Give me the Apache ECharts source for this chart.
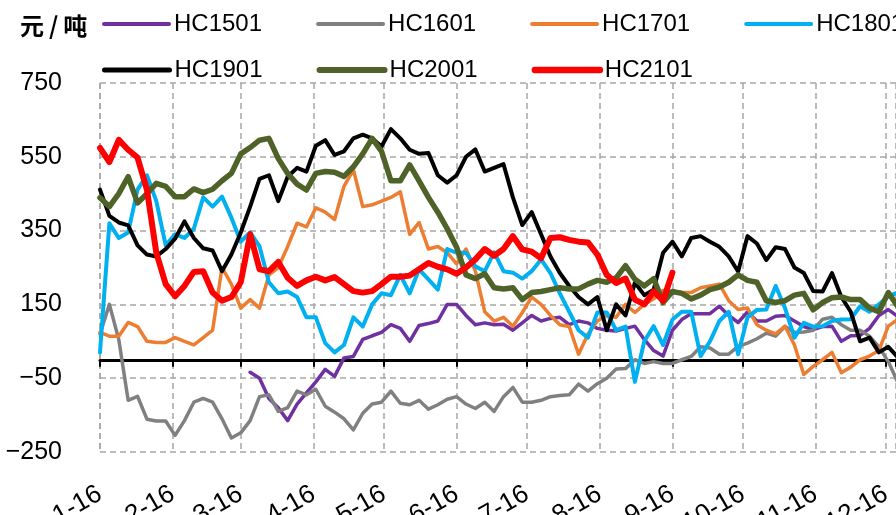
<!DOCTYPE html>
<html>
<head>
<meta charset="utf-8">
<script src="https://cdn.jsdelivr.net/npm/echarts@6/dist/echarts.min.js"></script>
<style>
    html, body { margin: 0; padding: 0; background: #fff; }
    #chart { width: 896px; height: 515px; }
</style>
</head>
<body>
<div id="chart"></div>
<script>
var FONT = "'Liberation Sans', Arial, sans-serif";
var DAY = 24 * 3600 * 1000;

// one sample every 4 days starting 2016-01-01
var stepDays = 4;
var sampleCount = 86;
var dates = [];
for (var i = 0; i < sampleCount; i++) {
    dates.push(new Date(2016, 0, 1 + i * stepDays).getTime());
}

var monthLabels = ['1-16', '2-16', '3-16', '4-16', '5-16', '6-16', '7-16', '8-16', '9-16', '10-16', '11-16', '12-16'];
var seriesNames = ['HC1501', 'HC1601', 'HC1701', 'HC1801', 'HC1901', 'HC2001', 'HC2101'];
var seriesColors = ['#7030A0', '#808080', '#ED7D31', '#00B0F0', '#000000', '#4F6228', '#FF0000'];
var seriesWidths = [3.5, 3.5, 3.5, 4, 4, 5.5, 6];
var legendWidths = [4, 4, 4, 4, 5, 6, 6.5];

var hc1501 = [null, null, null, null, null, null, null, null, null, null, null, null, null, null, null, null,
    -34, -50, -105, -130, -165, -120, -90, -60, -26, -45,
    5, 9, 55, 65, 74, 95, 85, 50, 93, 98,
    105, 150, 150, 120, 95, 100, 95, 96, 80, 100,
    120, 105, 112, 115, 95, 105, 100, 85, 80, 78,
    85, 91, 55, 25, 10, 80, 109, 125, 125, 125,
    145, 120, 101, 130, 105, 105, 118, 120, 105, 90,
    82, 90, 91, 50, 65, 66, 85, 120, 136, 118];
var hc1601 = [70, 150, 55, -110, -99, -161, -166, -166, -205, -165,
    -115, -105, -115, -160, -212, -198, -165, -100, -95, -140,
    -130, -85, -95, -80, -126, -142, -160, -190, -145, -120,
    -115, -85, -118, -122, -110, -134, -122, -107, -100, -120,
    -132, -115, -140, -100, -75, -115, -115, -110, -100, -97,
    -95, -66, -85, -65, -50, -25, -24, 0, -10, -5,
    -10, -10, 0, 9, 35, 32, 15, 15, 36, 45,
    57, 72, 64, 90, 74, 75, 80, 110, 115, 95,
    80, 80, 64, 35, -5, -61];
var hc1701 = [74, 64, 64, 101, 90, 50, 47, 47, 60, 50,
    40, 60, 80, 250, 205, 140, 163, 140, 230, 250,
    307, 370, 360, 412, 400, 380, 470, 515, 415, 420,
    430, 440, 455, 340, 372, 300, 307, 290, 260, 300,
    240, 130, 105, 115, 91, 128, 170, 150, 120, 95,
    90, 15, 70, 105, 120, 115, 150, 128, 150, 165,
    188, 185, 183, 182, 195, 200, 205, 160, 136, 140,
    95, 80, 70, 91, 40, -40, -18, 0, 20, -35,
    -20, 0, 10, 25, 91, 109];
var hc1801 = [20, 370, 330, 345, 461, 500, 430, 310, 340, 330,
    355, 440, 415, 442, 385, 320, 345, 307, 210, 180,
    185, 170, 115, 115, 45, 20, 40, 115, 90, 150,
    180, 175, 230, 180, 245, 218, 190, 300, 290, 290,
    253, 240, 291, 240, 236, 220, 240, 272, 235, 180,
    130, 80, 60, 128, 128, 80, 90, -60, 50, 91,
    40, 109, 130, 130, 10, 50, 105, 130, 15, 115,
    135, 136, 200, 140, 60, 100, 90, 91, 105, 109,
    110, 145, 130, 150, 172, 182];
var hc1901 = [461, 390, 372, 364, 310, 285, 280, 300, 328, 375,
    330, 302, 296, 240, 285, 345, 415, 490, 500, 430,
    496, 520, 510, 580, 595, 555, 565, 600, 610, 600,
    578, 625, 600, 569, 558, 560, 500, 480, 500, 550,
    570, 510, 520, 530, 440, 365, 400, 340, 280, 235,
    200, 170, 150, 170, 80, 150, 120, 209, 175, 190,
    290, 320, 280, 330, 335, 320, 306, 280, 239, 335,
    315, 270, 305, 300, 250, 235, 186, 185, 235, 170,
    130, 50, 60, 20, 35, 7];
var hc2001 = [439, 415, 450, 496, 425, 450, 478, 470, 442, 442,
    463, 453, 462, 485, 505, 558, 575, 595, 600, 545,
    505, 476, 460, 505, 510, 508, 497, 523, 558, 600,
    565, 485, 485, 528, 485, 440, 400, 355, 305, 230,
    220, 233, 195, 192, 195, 163, 182, 185, 190, 195,
    192, 192, 205, 215, 210, 222, 255, 218, 200, 220,
    155, 185, 180, 165, 175, 190, 197, 210, 230, 215,
    210, 160, 155, 160, 175, 180, 135, 155, 168, 170,
    163, 163, 140, 130, 182, 145];
var hc2101 = [574, 536, 596, 569, 548, 461, 290, 205, 172, 200,
    238, 240, 182, 160, 170, 210, 340, 245, 240, 265,
    222, 200, 215, 225, 215, 224, 205, 186, 182, 186,
    205, 225, 225, 228, 245, 262, 252, 245, 233, 250,
    272, 300, 282, 300, 335, 299, 293, 275, 330, 332,
    325, 320, 318, 285, 230, 208, 220, 163, 150, 185,
    160, 236];

var seriesValues = [hc1501, hc1601, hc1701, hc1801, hc1901, hc2001, hc2101];

var xMin = new Date(2016, 0, 1).getTime();
var xMax = new Date(2016, 11, 5, 7).getTime();

var chart = echarts.init(document.getElementById('chart'));

var gridLine = { color: '#A6A6A6', width: 1.5, type: [6, 4] };
var labelStyle = { color: '#000', fontSize: 24, fontFamily: FONT };

var series = seriesNames.map(function (name, k) {
    var vals = seriesValues[k];
    return {
        name: name,
        type: 'line',
        xAxisIndex: 0,
        symbol: 'none',
        lineStyle: { color: seriesColors[k], width: seriesWidths[k], cap: 'round', join: 'round' },
        itemStyle: { color: seriesColors[k] },
        data: dates.map(function (t, i) {
            return [t, vals[i] == null ? null : vals[i]];
        })
    };
});

function legendItems(from, to) {
    return seriesNames.slice(from, to).map(function (name, j) {
        return {
            name: name,
            itemStyle: { opacity: 0 },
            lineStyle: { width: legendWidths[from + j], cap: 'round' }
        };
    });
}

var legendBase = {
    left: 102,
    width: 860,
    padding: 0,
    itemWidth: 65,
    itemHeight: 14,
    itemGap: 54,
    textStyle: labelStyle
};

var option = {
    animation: false,
    title: {
        text: '{a|元}{s|/}{a|吨}',
        left: 15,
        top: 9,
        textStyle: {
            rich: {
                a: { fontSize: 24, fontWeight: 'bold', fontFamily: 'Noto Sans CJK SC', color: '#000' },
                s: { fontSize: 24, fontWeight: 'bold', fontFamily: 'Noto Sans CJK SC', color: '#000', padding: [0, 5] }
            }
        }
    },
    legend: [
        Object.assign({ top: 12, data: legendItems(0, 4) }, legendBase),
        Object.assign({ top: 58, data: legendItems(4, 7) }, legendBase)
    ],
    grid: { left: 100, right: 0, top: 83, bottom: 63, outerBoundsMode: 'none', containLabel: false },
    xAxis: [
        {
            // month labels and vertical grid lines, kept at the bottom
            type: 'time',
            position: 'bottom',
            min: xMin,
            max: xMax,
            splitNumber: 11,
            minInterval: 28 * DAY,
            maxInterval: 31 * DAY,
            axisLine: { show: false, onZero: false },
            axisTick: { show: false },
            axisLabel: {
                rotate: 30,
                margin: 40,
                hideOverlap: false,
                color: '#000',
                fontSize: 26,
                fontFamily: FONT,
                formatter: function (v) {
                    return monthLabels[new Date(v).getMonth()];
                }
            },
            splitLine: { show: true, lineStyle: gridLine }
        },
        {
            // black zero line with month ticks
            type: 'time',
            position: 'bottom',
            min: xMin,
            max: xMax,
            splitNumber: 11,
            minInterval: 28 * DAY,
            maxInterval: 31 * DAY,
            axisLine: { show: true, onZero: true, lineStyle: { color: '#000', width: 3 } },
            axisTick: { show: true, length: 7, lineStyle: { color: '#000', width: 2 } },
            axisLabel: { show: false },
            splitLine: { show: false }
        }
    ],
    yAxis: {
        type: 'value',
        min: -250,
        max: 750,
        interval: 200,
        axisLine: { show: false },
        axisTick: { show: false },
        axisLabel: {
            margin: 38,
            color: '#000',
            fontSize: 25,
            fontFamily: FONT,
            formatter: function (v) {
                return v < 0 ? '\u2212' + Math.abs(v) : String(v);
            }
        },
        splitLine: { show: true, lineStyle: gridLine }
    },
    series: series
};

chart.setOption(option);
</script>
</body>
</html>
